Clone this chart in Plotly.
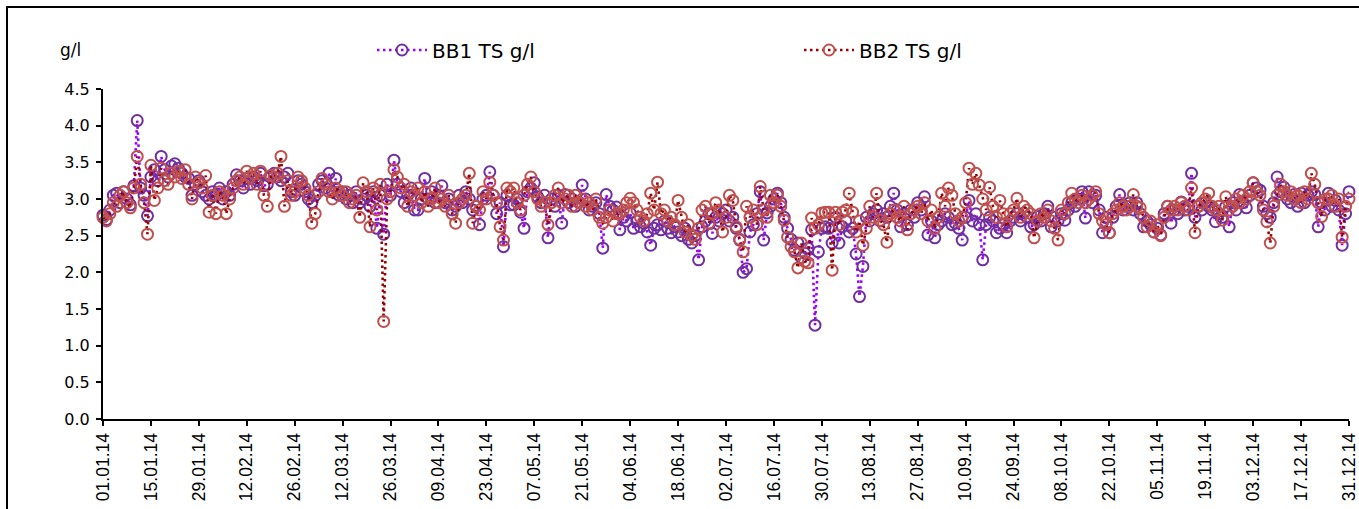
import pandas as pd
import plotly.graph_objects as go

# ---- data (g/l), daily values 2014 ----
bb1_jan = [2.78, 2.72, 2.85, 3.05, 3.08, 2.95, 3.10, 3.00, 2.92, 3.18, 4.07, 3.15, 3.05, 2.77, 3.30, 3.40, 3.25, 3.58, 3.40, 3.30, 3.45, 3.48, 3.42, 3.35, 3.30, 3.28, 3.05, 3.20, 3.25, 3.10, 3.05]
bb1_feb = [3.00, 3.10, 3.05, 3.15, 3.00, 3.10, 3.05, 3.20, 3.33, 3.25, 3.15, 3.28, 3.20, 3.30, 3.25, 3.35, 3.18, 3.20, 3.30, 3.35, 3.30, 3.25, 3.30, 3.35, 3.10, 3.05, 3.25, 3.20]
bb1_mar = [3.10, 3.00, 2.95, 3.05, 3.20, 3.25, 3.15, 3.35, 3.10, 3.28, 3.05, 3.10, 3.00, 3.05, 2.95, 3.10, 2.95, 3.00, 3.05, 2.90, 3.10, 2.60, 3.05, 2.52, 3.20, 3.05, 3.53, 3.20, 3.10, 2.95, 3.05]
bb1_apr = [3.15, 2.85, 2.85, 3.00, 3.28, 3.00, 3.10, 2.95, 3.05, 3.18, 2.95, 3.00, 2.85, 2.90, 3.05, 2.95, 3.10, 3.00, 2.85, 2.90, 2.65, 3.00, 3.05, 3.37, 3.05, 2.80, 2.95, 2.35, 3.05, 2.92]
bb1_may = [2.92, 3.00, 2.82, 2.60, 3.10, 3.15, 3.22, 3.03, 2.95, 3.05, 2.47, 3.00, 2.90, 3.05, 2.67, 3.06, 2.95, 3.00, 2.90, 2.96, 3.19, 3.00, 2.85, 2.90, 2.95, 2.80, 2.33, 3.06, 2.90, 2.85, 2.89]
bb1_jun = [2.58, 2.75, 2.70, 2.81, 2.60, 2.70, 2.62, 2.67, 2.55, 2.37, 2.60, 2.65, 2.58, 2.70, 2.60, 2.54, 2.62, 2.55, 2.50, 2.60, 2.45, 2.40, 2.50, 2.17, 2.62, 2.70, 2.80, 2.53, 2.75, 2.70]
bb1_jul = [2.80, 2.85, 2.70, 2.75, 2.60, 2.44, 2.00, 2.05, 2.55, 2.65, 2.80, 3.10, 2.44, 2.81, 2.90, 3.00, 3.08, 2.95, 2.75, 2.60, 2.45, 2.30, 2.40, 2.20, 2.26, 2.33, 2.58, 1.28, 2.28, 2.60, 2.62]
bb1_aug = [2.60, 2.40, 2.75, 2.40, 2.62, 2.70, 2.55, 2.60, 2.25, 1.67, 2.08, 2.75, 2.70, 2.80, 2.85, 2.70, 2.80, 2.75, 2.90, 3.08, 2.85, 2.62, 2.80, 2.65, 2.85, 2.75, 2.95, 2.85, 3.03, 2.51, 2.70]
bb1_sep = [2.47, 2.65, 2.70, 2.80, 2.75, 2.65, 2.67, 2.60, 2.44, 2.75, 2.98, 2.70, 2.80, 2.65, 2.17, 2.65, 2.75, 2.70, 2.54, 2.60, 2.65, 2.54, 2.70, 2.75, 2.80, 2.70, 2.81, 2.75, 2.62, 2.65]
bb1_oct = [2.76, 2.70, 2.80, 2.90, 2.62, 2.75, 2.70, 2.80, 2.71, 2.85, 2.95, 2.90, 3.00, 3.10, 2.74, 3.10, 2.95, 3.05, 2.85, 2.54, 2.75, 2.54, 2.75, 2.90, 3.06, 2.85, 2.90, 2.95, 2.85, 2.95, 2.80]
bb1_nov = [2.62, 2.70, 2.65, 2.55, 2.60, 2.51, 2.80, 2.90, 2.67, 2.85, 2.80, 2.96, 2.85, 2.90, 3.35, 2.75, 2.90, 2.85, 2.95, 2.90, 2.85, 2.69, 2.80, 2.75, 2.90, 2.62, 2.95, 2.85, 3.06, 2.95]
bb1_dec = [2.88, 3.05, 3.22, 3.15, 3.12, 2.90, 2.80, 2.75, 2.95, 3.30, 3.10, 3.16, 3.00, 2.95, 3.06, 2.90, 3.08, 2.95, 3.05, 3.10, 3.06, 2.62, 2.95, 2.85, 3.08, 2.90, 2.98, 2.85, 2.37, 2.80, 3.10]

bb2_jan = [2.75, 2.70, 2.80, 2.95, 2.90, 3.05, 3.10, 2.95, 2.88, 3.15, 3.58, 3.20, 2.95, 2.52, 3.46, 2.98, 3.15, 3.42, 3.25, 3.20, 3.35, 3.30, 3.38, 3.28, 3.40, 3.20, 3.00, 3.30, 3.22, 3.15, 3.32]
bb2_feb = [2.82, 3.05, 2.80, 3.10, 3.05, 2.80, 3.00, 3.15, 3.25, 3.30, 3.20, 3.38, 3.30, 3.35, 3.20, 3.38, 3.05, 2.90, 3.32, 3.30, 3.35, 3.58, 2.90, 3.25, 3.05, 3.10, 3.30, 3.25]
bb2_mar = [3.15, 3.05, 2.67, 2.80, 3.10, 3.28, 3.20, 3.10, 3.00, 3.15, 3.10, 3.05, 3.10, 2.95, 3.00, 3.05, 2.75, 3.22, 3.10, 2.62, 3.15, 2.85, 3.20, 1.33, 3.00, 3.10, 3.40, 3.30, 3.15, 3.20, 2.90]
bb2_apr = [3.10, 3.05, 3.15, 2.95, 3.10, 2.90, 3.00, 3.15, 2.95, 3.00, 2.90, 3.05, 2.80, 2.67, 2.95, 3.00, 3.05, 3.35, 2.67, 2.90, 2.85, 3.10, 3.00, 3.23, 3.05, 2.95, 2.62, 2.44, 3.15, 3.10]
bb2_may = [3.15, 2.95, 2.85, 3.05, 3.20, 3.30, 3.10, 3.00, 2.90, 2.95, 2.65, 2.95, 3.05, 3.15, 2.95, 3.00, 3.05, 2.90, 3.05, 2.95, 3.00, 2.90, 2.95, 2.85, 3.00, 2.75, 2.67, 2.75, 2.85, 2.70, 2.80]
bb2_jun = [2.80, 2.85, 2.95, 3.01, 2.95, 2.85, 2.75, 2.70, 2.80, 3.08, 2.85, 3.23, 2.80, 2.85, 2.70, 2.75, 2.65, 2.98, 2.75, 2.55, 2.65, 2.50, 2.45, 2.60, 2.85, 2.90, 2.67, 2.80, 2.95, 2.85]
bb2_jul = [2.55, 2.75, 3.05, 2.98, 2.62, 2.45, 2.28, 2.90, 2.75, 2.85, 2.65, 3.17, 2.85, 2.75, 3.05, 2.95, 3.05, 2.90, 2.71, 2.48, 2.35, 2.28, 2.06, 2.40, 2.15, 2.13, 2.74, 2.60, 2.65, 2.81, 2.82]
bb2_aug = [2.82, 2.03, 2.82, 2.65, 2.82, 2.85, 3.08, 2.82, 2.55, 2.70, 2.37, 2.60, 2.90, 2.75, 3.08, 2.71, 2.65, 2.41, 2.80, 2.85, 2.75, 2.70, 2.90, 2.58, 2.80, 2.85, 2.90, 2.80, 2.95, 2.70, 2.85]
bb2_sep = [2.60, 2.75, 3.08, 2.90, 3.15, 3.05, 2.80, 2.70, 2.75, 2.95, 3.42, 3.20, 3.35, 3.19, 3.00, 2.85, 3.16, 2.90, 2.75, 2.98, 2.80, 2.62, 2.80, 2.85, 3.01, 2.75, 2.90, 2.85, 2.80, 2.47]
bb2_oct = [2.70, 2.80, 2.75, 2.85, 2.70, 2.60, 2.44, 2.85, 2.80, 2.95, 3.08, 3.00, 2.95, 3.05, 2.95, 3.00, 3.05, 3.10, 2.80, 2.70, 2.65, 2.54, 2.80, 2.85, 2.95, 2.90, 2.85, 2.90, 3.06, 2.90, 2.88]
bb2_nov = [2.75, 2.62, 2.70, 2.55, 2.65, 2.50, 2.75, 2.90, 2.85, 2.90, 2.85, 2.95, 2.90, 2.85, 3.15, 2.54, 2.90, 2.95, 3.00, 3.08, 2.90, 2.85, 2.90, 2.71, 3.03, 2.85, 2.90, 3.00, 2.95, 3.05]
bb2_dec = [3.00, 3.10, 3.22, 3.10, 3.05, 2.85, 2.69, 2.40, 2.90, 3.05, 3.20, 3.10, 3.05, 3.10, 3.00, 3.05, 2.95, 3.10, 3.00, 3.35, 3.20, 2.95, 2.76, 3.00, 3.00, 3.05, 2.90, 3.00, 2.48, 2.90, 3.00]

bb1 = (bb1_jan + bb1_feb + bb1_mar + bb1_apr + bb1_may + bb1_jun +
       bb1_jul + bb1_aug + bb1_sep + bb1_oct + bb1_nov + bb1_dec)
bb2 = (bb2_jan + bb2_feb + bb2_mar + bb2_apr + bb2_may + bb2_jun +
       bb2_jul + bb2_aug + bb2_sep + bb2_oct + bb2_nov + bb2_dec)

dates = pd.date_range("2014-01-01", "2014-12-31", freq="D")
n = min(len(dates), len(bb1), len(bb2))
dates = dates[:n]

tick_dates = pd.date_range("2014-01-01", "2014-12-31", freq="14D")
tick_labels = [d.strftime("%d.%m.%y") for d in tick_dates]

series_names = ["BB1 TS g/l", "BB2 TS g/l"]
y_unit = "g/l"

WIDE = "DejaVu Sans, Verdana, sans-serif"
ARIAL = "Liberation Sans, Arial, sans-serif"

fig = go.Figure()
fig.add_trace(go.Scatter(
    x=dates, y=bb1[:n], name=series_names[0], mode="lines+markers",
    line=dict(color="#9900FF", width=2.6, dash="2.5px,3.5px"),
    marker=dict(symbol="circle-open", size=11, color="#7030A0", line=dict(width=2)),
    cliponaxis=False,
))
fig.add_trace(go.Scatter(
    x=dates, y=bb2[:n], name=series_names[1], mode="lines+markers",
    line=dict(color="#990000", width=2.6, dash="2.5px,3.5px"),
    marker=dict(symbol="circle-open", size=11, color="#C0504D", line=dict(width=2)),
    cliponaxis=False,
))

L, R, T, B = 103, 10, 89, 90
W, H = 1359, 509
pw, ph = W - L - R, H - T - B

fig.update_layout(
    width=W, height=H,
    margin=dict(l=L, r=R, t=T, b=B, autoexpand=False),
    paper_bgcolor="white", plot_bgcolor="white",
    font=dict(family=ARIAL, color="black"),
    showlegend=True,
    legend=dict(
        orientation="h", x=(372 - L) / pw, xanchor="left",
        y=1 + (T - 50) / ph, yanchor="middle",
        font=dict(size=20, family=WIDE, color="black"),
        itemwidth=50, entrywidthmode="pixels", entrywidth=362,
        bgcolor="rgba(0,0,0,0)",
    ),
    xaxis=dict(
        type="date", range=[dates[0], pd.Timestamp("2014-12-31")],
        tickvals=tick_dates, ticktext=tick_labels, tickangle=-90,
        showline=True, linecolor="black", linewidth=2,
        ticks="outside", ticklen=5, tickwidth=1.5, tickcolor="black",
        tickfont=dict(size=17.5, family=ARIAL, color="black"),
        showgrid=False, zeroline=False, automargin=False,
    ),
    yaxis=dict(
        range=[0, 4.5], dtick=0.5, tick0=0, tickformat=".1f",
        showline=True, linecolor="black", linewidth=2,
        ticks="outside", ticklen=5, tickwidth=1.5, tickcolor="black",
        tickfont=dict(size=16, family=WIDE, color="black"),
        ticklabelstandoff=3,
        showgrid=False, zeroline=False, automargin=False,
    ),
    annotations=[dict(
        text=y_unit, xref="paper", yref="paper",
        x=(70 - L) / pw, y=1 + (T - 50) / ph, xanchor="center", yanchor="middle",
        showarrow=False, font=dict(size=17, family=WIDE, color="black"),
    )],
    shapes=[dict(
        type="rect", xref="paper", yref="paper",
        x0=(7 - L) / pw, x1=(W + 20 - L) / pw,
        y0=-(B + 20) / ph, y1=1 + (T - 7) / ph,
        line=dict(color="black", width=2), fillcolor="rgba(0,0,0,0)", layer="below",
    )],
)

fig.write_html("out.html")
